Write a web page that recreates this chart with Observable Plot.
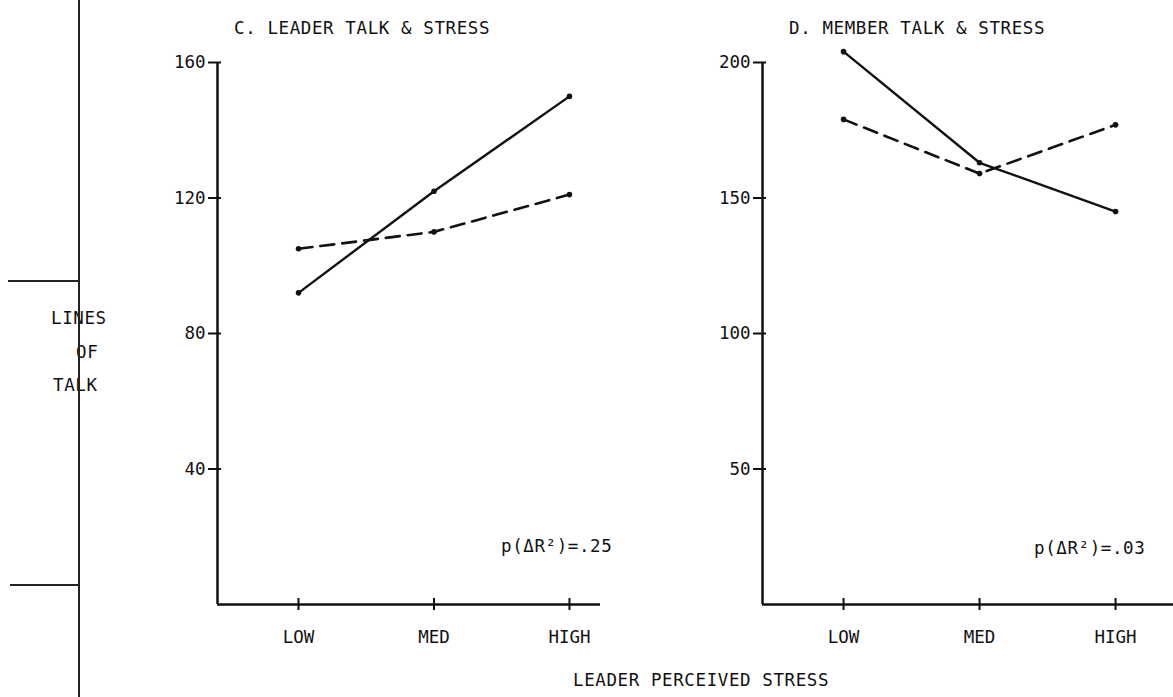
<!DOCTYPE html>
<html>
<head>
<meta charset="utf-8">
<script src="https://cdn.jsdelivr.net/npm/d3@7"></script>
<script src="https://cdn.jsdelivr.net/npm/@observablehq/plot@0.6"></script>
<style>
  html, body { margin: 0; padding: 0; background: #fff; }
  #page { position: relative; width: 1173px; height: 697px; overflow: hidden;
          font-family: "DejaVu Sans Mono", monospace; color: #111; }
  .lbl { position: absolute; font-size: 17.5px; letter-spacing: 0.6px; white-space: nowrap; line-height: 1; }
  .panel { position: absolute; top: 0; }
  .rule { position: absolute; background: #222; }
</style>
</head>
<body>
<div id="page"></div>
<script>
// Stress levels along the horizontal axis
const levels = ["LOW", "MED", "HIGH"];

// C. Leader talk (lines of talk) by leader perceived stress
const leaderSolid  = [92, 122, 150];
const leaderDashed = [105, 110, 121];
const leaderTicks  = [40, 80, 120, 160];

// D. Member talk (lines of talk) by leader perceived stress
const memberSolid  = [204, 163, 145];
const memberDashed = [179, 159, 177];
const memberTicks  = [50, 100, 150, 200];

const page = document.getElementById("page");

function rows(values) {
  return values.map((v, i) => ({level: i + 1, value: v}));
}

function panel({solid, dashed, ticks, yMax, xDomain, left, width, marginLeft, marginRight}) {
  const chart = Plot.plot({
    width,
    height: 697,
    marginTop: 62,
    marginBottom: 93,
    marginLeft,
    marginRight,
    style: {fontFamily: "DejaVu Sans Mono, monospace", fontSize: "17.5px", color: "#111", background: "transparent", overflow: "visible"},
    x: {type: "linear", domain: xDomain},
    y: {domain: [0, yMax]},
    marks: [
      // axis lines
      Plot.ruleX([xDomain[0]], {stroke: "#111", strokeWidth: 2.5}),
      Plot.ruleY([0], {stroke: "#111", strokeWidth: 2.5}),
      // y ticks crossing the axis, with labels
      Plot.axisY({ticks, tickSize: 9, tickPadding: 3, tickFormat: d => String(d), strokeWidth: 2, label: null}),
      Plot.axisY({ticks, tickSize: -4, fill: "none", strokeWidth: 2, label: null}),
      // x ticks crossing the axis, with labels
      Plot.axisX({ticks: [1, 2, 3], tickSize: 6, tickPadding: 20, tickFormat: i => levels[i - 1], strokeWidth: 2, label: null}),
      Plot.axisX({ticks: [1, 2, 3], tickSize: -6, fill: "none", strokeWidth: 2, label: null}),
      // series
      Plot.line(rows(solid), {x: "level", y: "value", stroke: "#111", strokeWidth: 2.4}),
      Plot.line(rows(dashed), {x: "level", y: "value", stroke: "#111", strokeWidth: 2.6, strokeDasharray: "14,8"}),
      Plot.dot(rows(solid), {x: "level", y: "value", r: 2.8, fill: "#111"}),
      Plot.dot(rows(dashed), {x: "level", y: "value", r: 2.8, fill: "#111"})
    ]
  });
  const wrap = document.createElement("div");
  wrap.className = "panel";
  wrap.style.left = left + "px";
  wrap.appendChild(chart);
  page.appendChild(wrap);
}

panel({solid: leaderSolid, dashed: leaderDashed, ticks: leaderTicks, yMax: 160,
       xDomain: [0.402, 3.229], left: 150, width: 460, marginLeft: 67, marginRight: 10});
panel({solid: memberSolid, dashed: memberDashed, ticks: memberTicks, yMax: 200,
       xDomain: [0.404, 3.426], left: 700, width: 473, marginLeft: 62, marginRight: 0});

// text labels
function label(text, x, y, extra) {
  const el = document.createElement("div");
  el.className = "lbl";
  el.textContent = text;
  el.style.left = x + "px";
  el.style.top = y + "px";
  if (extra) Object.assign(el.style, extra);
  page.appendChild(el);
  return el;
}
label("C. LEADER TALK & STRESS", 234, 20);
label("D. MEMBER TALK & STRESS", 789, 20);
label("LINES", 51, 310);
label("OF", 76, 344);
label("TALK", 53, 377);
label("p(ΔR²)=.25", 501, 538);
label("p(ΔR²)=.03", 1034, 540);
label("LEADER PERCEIVED STRESS", 573, 672);

// bracket rules on the left margin
function rule(x, y, w, h) {
  const el = document.createElement("div");
  el.className = "rule";
  Object.assign(el.style, {left: x + "px", top: y + "px", width: w + "px", height: h + "px"});
  page.appendChild(el);
}
rule(78, 0, 1.5, 697);
rule(8, 280, 71, 1.5);
rule(10, 584, 69, 1.5);
</script>
</body>
</html>
